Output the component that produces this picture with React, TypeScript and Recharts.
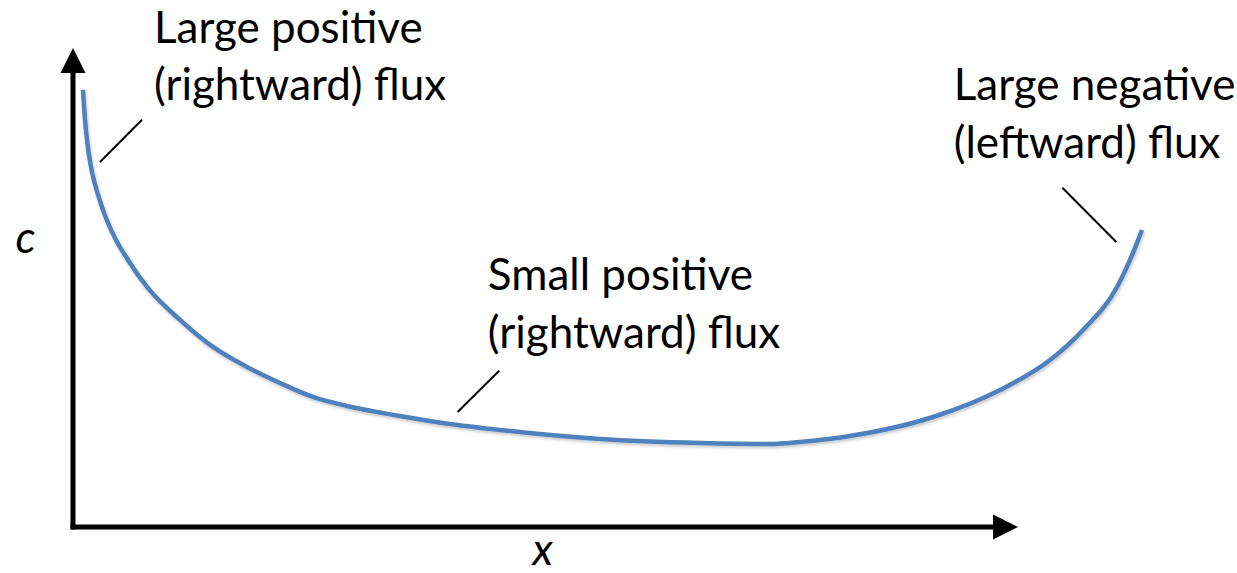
import { LineChart, XAxis, YAxis, Line, ReferenceLine, ReferenceDot } from "recharts";

// concentration profile c(x)
const xValues = [1.06, 1.27, 1.59, 2.01, 2.65, 3.49, 4.55, 5.82, 7.83, 11.32, 14.81, 18.41, 21.9, 25.4, 28.99, 34.6, 39.89, 45.19, 55.77, 66.35, 73.76, 76.93, 82.22, 91.01, 98.1, 103.39, 106.88, 110.48, 112.17, 113.12];
const cValues = [91.23, 84.97, 79.12, 74.11, 69.31, 64.51, 59.92, 55.74, 50.1, 43.22, 37.58, 33.4, 30.06, 27.14, 25.26, 23.17, 21.5, 20.25, 18.37, 17.54, 17.33, 17.75, 19.0, 22.96, 28.6, 34.86, 41.13, 50.1, 57.2, 62.0];

const noteLines = ["Large positive", "(rightward) flux", "Large negative", "(leftward) flux", "Small positive", "(rightward) flux"];
const noteX = [8.57, 8.57, 93.2, 93.2, 43.9, 43.9];
const noteY = [101.0, 89.1, 89.1, 77.0, 49.5, 37.4];

// pointer segments: [x1, y1, x2, y2]
const pointers = [
  [7.3, 85.0, 2.86, 76.2],
  [45.1, 32.6, 40.7, 24.0],
  [104.7, 70.8, 110.4, 59.5],
];

const axisEndX = 97.4;
const axisEndY = 94.8;

const data = xValues.map((x, i) => ({ x, c: cValues[i] }));

const FONT = "Lato, 'Noto Sans', sans-serif";

const textShape = (label: string, italic = false, anchor: "start" | "middle" = "start") => (p: any) => (
  <text
    x={p.cx}
    y={p.cy}
    fontFamily={FONT}
    fontSize={44}
    fontStyle={italic ? "italic" : "normal"}
    textAnchor={anchor}
    fill="#000"
  >
    {label}
  </text>
);

const upArrow = (p: any) => (
  <polygon points={`${p.cx},${p.cy} ${p.cx - 12.5},${p.cy + 25} ${p.cx + 12.5},${p.cy + 25}`} fill="#000" />
);

const rightArrow = (p: any) => (
  <polygon points={`${p.cx},${p.cy} ${p.cx - 25},${p.cy - 12.5} ${p.cx - 25},${p.cy + 12.5}`} fill="#000" />
);

export default function App() {
  return (
    <div style={{ position: "absolute", left: 0, top: 0, width: 1237, height: 573, background: "#fff" }}>
      <LineChart width={1237} height={573} data={data} margin={{ top: 0, right: 30, bottom: 46, left: 73 }}>
        <defs>
          <filter id="curveShadow" x="-10%" y="-10%" width="120%" height="130%">
            <feDropShadow dx="1" dy="2" stdDeviation="1.5" floodColor="#000" floodOpacity="0.22" />
          </filter>
        </defs>
        <XAxis type="number" dataKey="x" domain={[0, 120]} hide allowDataOverflow />
        <YAxis type="number" domain={[0, 110]} hide allowDataOverflow />

        <ReferenceLine segment={[{ x: 0, y: 0 }, { x: 0, y: axisEndY }]} stroke="#000" strokeWidth={5} strokeLinecap="square" ifOverflow="visible" />
        <ReferenceLine segment={[{ x: 0, y: 0 }, { x: axisEndX, y: 0 }]} stroke="#000" strokeWidth={5} strokeLinecap="square" ifOverflow="visible" />
        <ReferenceDot x={0} y={100} shape={upArrow} ifOverflow="visible" />
        <ReferenceDot x={100} y={0} shape={rightArrow} ifOverflow="visible" />

        {pointers.map((s, i) => (
          <ReferenceLine
            key={`ptr-${i}`}
            segment={[{ x: s[0], y: s[1] }, { x: s[2], y: s[3] }]}
            stroke="#000"
            strokeWidth={2}
            ifOverflow="visible"
          />
        ))}

        <Line
          type="monotone"
          dataKey="c"
          stroke="#4f81bd"
          strokeWidth={4.5}
          dot={false}
          activeDot={false}
          isAnimationActive={false}
          style={{ filter: "url(#curveShadow)" }}
        />

        {noteLines.map((t, i) => (
          <ReferenceDot key={`note-${i}`} x={noteX[i]} y={noteY[i]} shape={textShape(t)} ifOverflow="visible" />
        ))}
        <ReferenceDot x={-5.03} y={57.2} shape={textShape("c", true, "middle")} ifOverflow="visible" />
        <ReferenceDot x={49.7} y={-7.9} shape={textShape("x", true, "middle")} ifOverflow="visible" />
      </LineChart>
    </div>
  );
}
